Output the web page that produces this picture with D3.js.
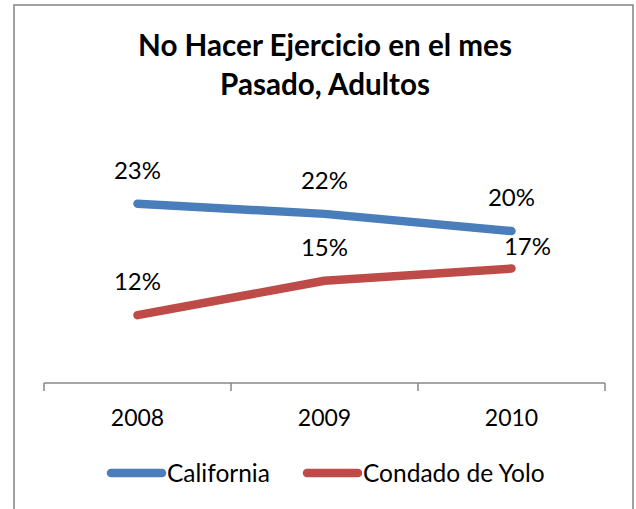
<!DOCTYPE html>
<html><head><meta charset="utf-8">
<script src="https://cdn.jsdelivr.net/npm/d3@7"></script>
<style>html,body{margin:0;padding:0;background:#fff;}</style>
</head><body>
<svg id="c" width="636" height="509"></svg>
<script>
const titleLines = ["No Hacer Ejercicio en el mes", "Pasado, Adultos"];
const years = ["2008", "2009", "2010"];
const california = [23.0, 22.0, 20.3];
const yolo = [12.0, 15.4, 16.6];
const seriesNames = ["California", "Condado de Yolo"];
const seriesColors = ["#4A7EBB", "#BE4B48"];

const svg = d3.select("#c");
const font = "Lato, 'Open Sans', sans-serif";

// chart border
svg.append("rect").attr("x", 14).attr("y", 5).attr("width", 619).attr("height", 520)
  .attr("fill", "#fff").attr("stroke", "#8a8a8a").attr("stroke-width", 1.6);

// title
const title = svg.append("g");
titleLines.forEach((t, i) => {
  title.append("text").attr("x", 325).attr("y", 56 + i * 39)
    .attr("text-anchor", "middle").attr("font-family", font).attr("font-weight", "bold")
    .attr("font-size", 25).attr("fill", "#000").text(t);
});
const t0 = title.select("text").node();
const w0 = t0.getComputedTextLength();
const fs = 25 * 374 / w0;
title.selectAll("text").attr("font-size", fs);

const x = d3.scaleBand().domain(years).range([44, 605]).paddingInner(0).paddingOuter(0);
const y = d3.scaleLinear().domain([5.3, 25]).range([383, 183.5]);

// x axis
const xAxis = d3.axisBottom(x).tickSize(0).tickPadding(0);
const ag = svg.append("g").attr("transform", "translate(0,383)").call(xAxis);
ag.select(".domain").remove();
ag.selectAll(".tick line").remove();
ag.selectAll(".tick text").attr("font-family", font).attr("font-size", 23).attr("fill", "#000")
  .attr("dy", null).attr("y", 43);
const gridColor = "#878787";
svg.append("line").attr("x1", x.range()[0]).attr("x2", x.range()[1]).attr("y1", 383).attr("y2", 383)
  .attr("stroke", gridColor).attr("stroke-width", 1.5);
const bounds = years.map(d => x(d)).concat([x.range()[1]]);
svg.selectAll(".xt").data(bounds).enter().append("line")
  .attr("x1", d => d).attr("x2", d => d).attr("y1", 383).attr("y2", 391)
  .attr("stroke", gridColor).attr("stroke-width", 1.5);

const cx = d => x(d) + x.bandwidth() / 2;
const line = d3.line().x((d, i) => cx(years[i])).y(d => y(d));
[california, yolo].forEach((vals, si) => {
  svg.append("path").attr("d", line(vals)).attr("fill", "none")
    .attr("stroke", seriesColors[si]).attr("stroke-width", 8.5)
    .attr("stroke-linecap", "round").attr("stroke-linejoin", "round");
});

// data labels
[california, yolo].forEach((vals, si) => {
  svg.selectAll(".lbl" + si).data(vals).enter().append("text")
    .attr("x", (d, i) => cx(years[i]) + (si === 1 && i === 2 ? 16 : 0))
    .attr("y", (d, i) => y(d) - (si === 1 && i === 2 ? 14 : 25))
    .attr("text-anchor", "middle").attr("font-family", font).attr("font-size", 24).attr("fill", "#000")
    .text(d => Math.round(d) + "%");
});

// legend
const legendX = [107, 303];
seriesNames.forEach((n, i) => {
  svg.append("line").attr("x1", legendX[i] + 4).attr("x2", legendX[i] + 55).attr("y1", 473).attr("y2", 473)
    .attr("stroke", seriesColors[i]).attr("stroke-width", 8.5).attr("stroke-linecap", "round");
  svg.append("text").attr("x", legendX[i] + 60).attr("y", 481.5).attr("font-family", font)
    .attr("font-size", 24.5).attr("fill", "#000").text(n);
});
</script>
</body></html>
